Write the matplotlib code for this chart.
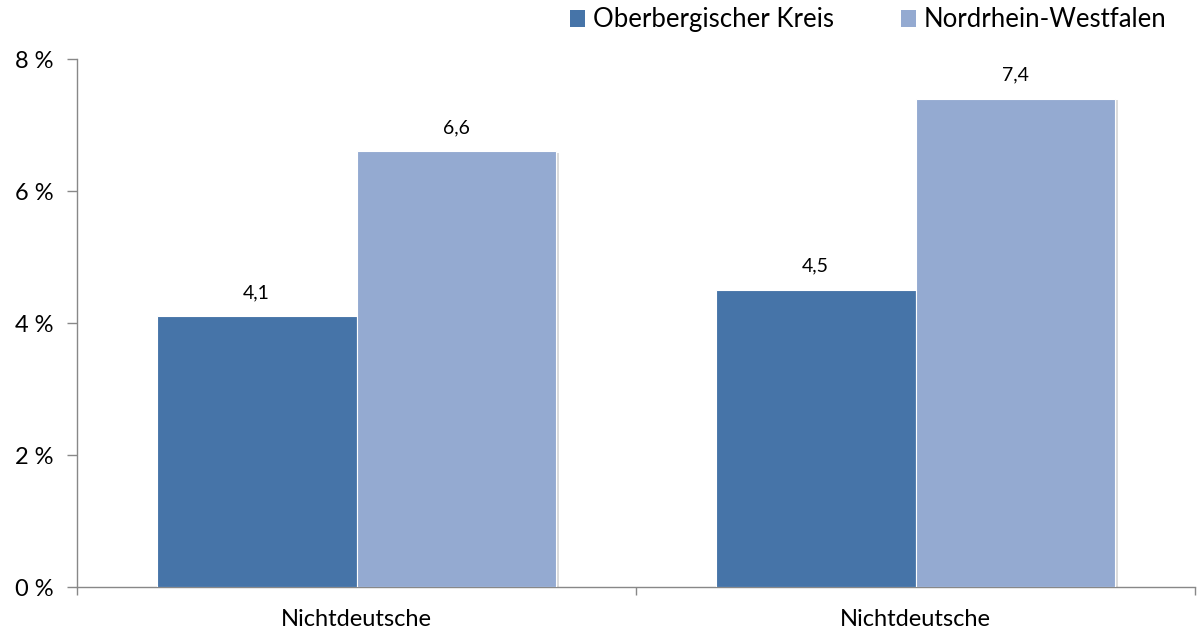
import matplotlib
matplotlib.use("Agg")
import matplotlib.pyplot as plt
import matplotlib.patheffects as pe
from matplotlib.patches import Patch
import numpy as np

categories = ["Nichtdeutsche", "Nichtdeutsche"]
series_names = ["Oberbergischer Kreis", "Nordrhein-Westfalen"]
oberberg = [4.1, 4.5]
nrw = [6.6, 7.4]
y_ticks = [0, 2, 4, 6, 8]
y_tick_labels = ["0 %", "2 %", "4 %", "6 %", "8 %"]

colors = ["#4674A8", "#94AAD1"]

plt.rcParams['font.family'] = ['Lato', 'DejaVu Sans']

fig = plt.figure(figsize=(11.98, 6.29), dpi=100)
ax = fig.add_axes([77/1198, 1 - 587/629, (1195-77)/1198, (587-59)/629])

x = np.arange(len(categories))
w = 0.357
shadow = [pe.SimplePatchShadow(offset=(2, -1), shadow_rgbFace="#999999", alpha=0.35), pe.Normal()]
b1 = ax.bar(x - w/2, oberberg, w, color=colors[0], edgecolor="white", linewidth=0.8,
            path_effects=shadow, zorder=3)
b2 = ax.bar(x + w/2, nrw, w, color=colors[1], edgecolor="white", linewidth=0.8,
            path_effects=shadow, zorder=3)

for bars, vals in ((b1, oberberg), (b2, nrw)):
    for r, v in zip(bars, vals):
        ax.annotate(f"{v:.1f}".replace(".", ","), (r.get_x() + r.get_width()/2, v),
                    xytext=(0, 11), textcoords="offset points", ha="center", va="bottom",
                    fontsize=14, color="#000000")

ax.set_xlim(-0.5, len(categories) - 0.5)
ax.set_ylim(0, 8)
ax.set_yticks(y_ticks)
ax.set_yticklabels(y_tick_labels, fontsize=17)
ax.set_xticks(x)
ax.set_xticklabels(categories, fontsize=17)
ax.tick_params(axis='x', which='major', length=0, pad=16)
ax.set_xticks(np.arange(-0.5, len(categories)), minor=True)
ax.tick_params(axis='x', which='minor', length=6, color="#888888", width=1)
ax.tick_params(axis='y', length=7, color="#888888", width=1, pad=10)

for s in ("top", "right"):
    ax.spines[s].set_visible(False)
for s in ("left", "bottom"):
    ax.spines[s].set_color("#888888")
    ax.spines[s].set_linewidth(1)

handles = [Patch(facecolor=c, edgecolor="none") for c in colors]
leg = fig.legend(handles=handles, labels=series_names, loc="upper right",
                 bbox_to_anchor=(0.993, 1.025), ncol=2, frameon=False, fontsize=18.5,
                 handlelength=0.6, handleheight=0.6, handletextpad=0.3, columnspacing=2.6)

fig.savefig("out.png", dpi=100)
